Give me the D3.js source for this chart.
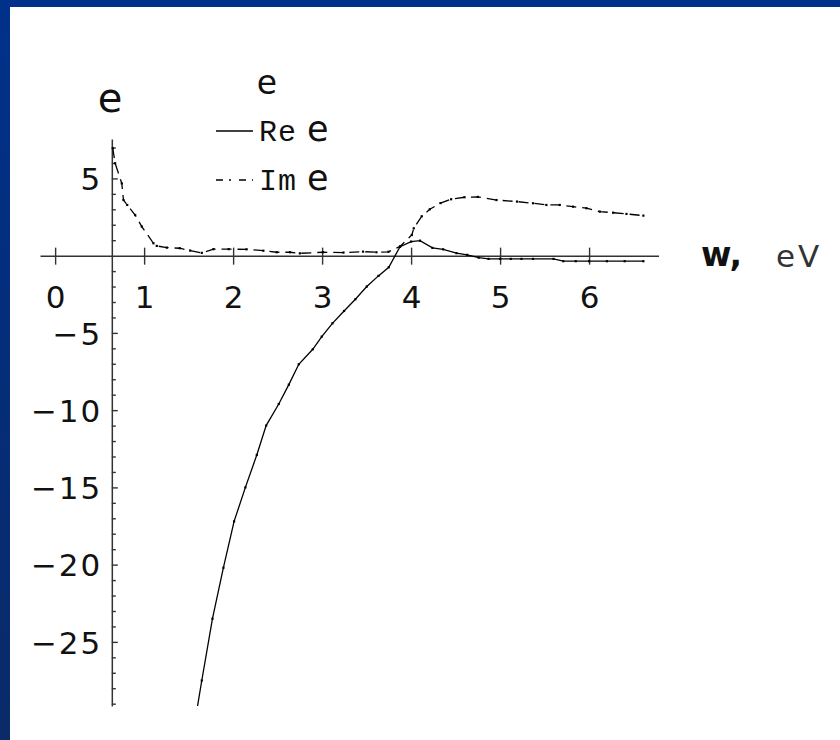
<!DOCTYPE html>
<html>
<head>
<meta charset="utf-8">
<script src="https://cdn.jsdelivr.net/npm/d3@7"></script>
<style>
  html, body { margin: 0; padding: 0; background: #fff; }
  svg { display: block; }
</style>
</head>
<body>
<svg id="chart" width="840" height="740"></svg>
<script>
// ---- data ----
const reX = [1.57, 1.648, 1.768, 1.891, 2.011, 2.138, 2.266, 2.371, 2.513, 2.626, 2.738, 2.895, 2.996, 3.116, 3.247, 3.374, 3.502, 3.633, 3.749, 3.876, 4.0, 4.10, 4.24, 4.36, 4.51, 4.63, 4.76, 4.87, 5.0, 5.12, 5.24, 5.37, 5.6, 5.71, 5.85, 6.0, 6.2, 6.4, 6.61];
const reY = [-30.2, -27.5, -23.5, -20.2, -17.2, -15.0, -12.9, -11.0, -9.6, -8.35, -7.03, -6.06, -5.24, -4.38, -3.58, -2.82, -2.0, -1.31, -0.75, 0.58, 0.91, 0.97, 0.50, 0.41, 0.16, 0.05, -0.13, -0.21, -0.21, -0.21, -0.21, -0.21, -0.21, -0.36, -0.36, -0.36, -0.36, -0.36, -0.36];
const imX = [0.648, 0.674, 0.749, 0.768, 0.81, 0.899, 0.974, 1.105, 1.142, 1.255, 1.40, 1.517, 1.648, 1.779, 1.95, 2.15, 2.34, 2.49, 2.64, 2.75, 3.01, 3.24, 3.46, 3.61, 3.745, 3.876, 4.008, 4.03, 4.12, 4.21, 4.33, 4.45, 4.6, 4.75, 4.96, 5.19, 5.37, 5.52, 5.67, 5.82, 5.97, 6.12, 6.27, 6.42, 6.61];
const imY = [6.95, 5.98, 4.68, 3.6, 3.28, 2.63, 1.88, 0.8, 0.63, 0.52, 0.48, 0.33, 0.18, 0.42, 0.42, 0.41, 0.32, 0.22, 0.22, 0.15, 0.22, 0.2, 0.26, 0.22, 0.25, 0.6, 1.34, 1.77, 2.55, 3.0, 3.4, 3.65, 3.78, 3.8, 3.6, 3.5, 3.39, 3.28, 3.28, 3.17, 3.07, 2.85, 2.78, 2.7, 2.59];
const xTicks = [0, 1, 2, 3, 4, 5, 6];
const yMajorTicks = [5, -5, -10, -15, -20, -25];
const yMinorTicks = d3.range(-29, 8);
const yAxisAt = 0.637;
const xDomain = [-0.17, 6.78];
const yDomain = [-29.15, 7.55];
const legendItems = [{prefix: "Re", dash: null}, {prefix: "Im", dash: "7,6,2,8"}];

const reData = reX.map((x, i) => ({x, y: reY[i]}));
const imData = imX.map((x, i) => ({x, y: imY[i]}));

// ---- layout ----
const svg = d3.select("#chart");
const W = 840, H = 740;

// frame (blue border)
const defs = svg.append("defs");
const grad = defs.append("linearGradient").attr("id", "side").attr("x1", 0).attr("y1", 0).attr("x2", 0).attr("y2", 1);
grad.append("stop").attr("offset", "0%").attr("stop-color", "#00318a");
grad.append("stop").attr("offset", "100%").attr("stop-color", "#0a2a68");
svg.append("rect").attr("x", 0).attr("y", 0).attr("width", W).attr("height", H).attr("fill", "#fff");
svg.append("rect").attr("x", 0).attr("y", 0).attr("width", W).attr("height", 7).attr("fill", "#00318a");
svg.append("rect").attr("x", 0).attr("y", 0).attr("width", 10).attr("height", H).attr("fill", "url(#side)");

const x = d3.scaleLinear().domain(xDomain).range([40, 658.5]);
const y = d3.scaleLinear().domain(yDomain).range([706, 139]);

defs.append("clipPath").attr("id", "plotclip").append("rect")
  .attr("x", x(xDomain[0])).attr("y", y(yDomain[1]))
  .attr("width", x(xDomain[1]) - x(xDomain[0])).attr("height", y(yDomain[0]) - y(yDomain[1]));

const axisColor = "#333";
const tickFont = "'DejaVu Sans', sans-serif";
const monoFont = "'Liberation Mono', 'DejaVu Sans Mono', monospace";

// x axis
const gx = svg.append("g").attr("transform", `translate(0,${y(0)})`)
  .call(d3.axisBottom(x).tickValues(xTicks).tickSizeInner(9).tickSizeOuter(0).tickFormat(d3.format("d")));
gx.select(".domain").attr("stroke", axisColor).attr("stroke-width", 1.5);
gx.selectAll(".tick line").attr("y1", -8).attr("stroke", axisColor).attr("stroke-width", 1.4);
gx.selectAll(".tick text").attr("y", 52.6).attr("dy", null)
  .style("font-family", tickFont).style("font-size", "31px").attr("fill", "#111");

// y axis (minor + major ticks pointing right)
const gy = svg.append("g").attr("transform", `translate(${x(yAxisAt)},0)`)
  .call(d3.axisRight(y).tickValues(yMinorTicks).tickSizeInner(4).tickSizeOuter(0).tickFormat(""));
gy.select(".domain").attr("stroke", axisColor).attr("stroke-width", 1.5);
gy.selectAll(".tick line").attr("stroke", axisColor).attr("stroke-width", 1.4)
  .attr("x2", d => (d % 5 === 0 ? 6 : 4));
gy.selectAll(".tick").filter(d => d === 0).remove();

// y tick labels
const gyl = svg.append("g").attr("transform", `translate(${x(yAxisAt)},0)`)
  .call(d3.axisLeft(y).tickValues(yMajorTicks).tickSize(0).tickPadding(9.5).tickFormat(d3.format("d")));
gyl.select(".domain").remove();
gyl.selectAll(".tick text").attr("dy", null).attr("y", 11.3)
  .style("font-family", tickFont).style("font-size", "31px").style("letter-spacing", "2px").attr("fill", "#111");

// curves
const line = d3.line().x(d => x(d.x)).y(d => y(d.y));
const plot = svg.append("g").attr("clip-path", "url(#plotclip)");
plot.append("path").datum(reData).attr("d", line).attr("fill", "none").attr("stroke", "#000").attr("stroke-width", 1.3);
plot.append("path").datum(imData).attr("d", line).attr("fill", "none").attr("stroke", "#000").attr("stroke-width", 1.3)
  .attr("stroke-dasharray", "10,6");
[reData, imData].forEach(data => {
  plot.selectAll(null).data(data).enter().append("rect")
    .attr("x", d => x(d.x) - 1.1).attr("y", d => y(d.y) - 1.1)
    .attr("width", 2.2).attr("height", 2.2).attr("fill", "#000");
});

// axis labels
svg.append("text").attr("x", 110).attr("y", 112).attr("text-anchor", "middle")
  .style("font-family", tickFont).style("font-size", "40px").attr("fill", "#111").text("e");
svg.append("text").attr("x", 701).attr("y", 266)
  .style("font-family", tickFont).style("font-size", "33px").style("font-weight", "bold").attr("fill", "#111").text("w,");
svg.append("text").attr("x", 776).attr("y", 267)
  .style("font-family", tickFont).style("font-size", "31px").style("letter-spacing", "3px").attr("fill", "#333").text("eV");

// legend
svg.append("text").attr("x", 267).attr("y", 94).attr("text-anchor", "middle")
  .style("font-family", tickFont).style("font-size", "33px").attr("fill", "#111").text("e");
const legRowY = [131, 180];
legendItems.forEach((item, i) => {
  const ly = legRowY[i];
  const ln = svg.append("line").attr("x1", 216).attr("x2", 253).attr("y1", ly).attr("y2", ly)
    .attr("stroke", "#000").attr("stroke-width", 1.3);
  if (item.dash) ln.attr("stroke-dasharray", item.dash);
  svg.append("text").attr("x", 259).attr("y", ly + 9.5)
    .style("font-family", monoFont).style("font-size", "30px")
    .style("letter-spacing", "1px").attr("fill", "#111").text(item.prefix);
  svg.append("text").attr("x", 307).attr("y", ly + 9.5)
    .style("font-family", tickFont).style("font-size", "35px").attr("fill", "#111").text("e");
});
</script>
</body>
</html>
